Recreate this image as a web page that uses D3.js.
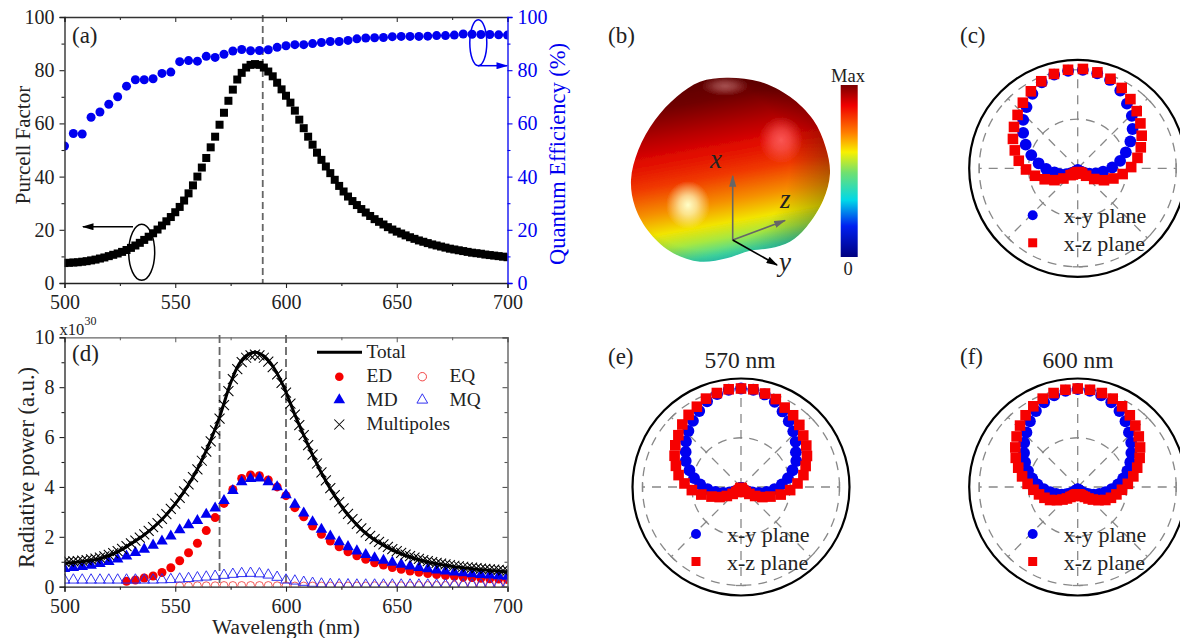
<!DOCTYPE html>
<html>
<head>
<meta charset="utf-8">
<script src="https://cdn.jsdelivr.net/npm/d3@7"></script>
<style>
  html, body { margin: 0; padding: 0; background: #fff; overflow: hidden; }
  text { font-family: "Liberation Serif", serif; fill: #222; }
</style>
</head>
<body>
<script>
// wavelength grids (nm)
const wl2 = [500,502,504,506,508,510,512,514,516,518,520,522,524,526,528,530,532,534,536,538,540,542,544,546,548,550,552,554,556,558,560,562,564,566,568,570,572,574,576,578,580,582,584,586,588,590,592,594,596,598,600,602,604,606,608,610,612,614,616,618,620,622,624,626,628,630,632,634,636,638,640,642,644,646,648,650,652,654,656,658,660,662,664,666,668,670,672,674,676,678,680,682,684,686,688,690,692,694,696,698,700];
const wl4 = [500,504,508,512,516,520,524,528,532,536,540,544,548,552,556,560,564,568,572,576,580,584,588,592,596,600,604,608,612,616,620,624,628,632,636,640,644,648,652,656,660,664,668,672,676,680,684,688,692,696,700];

// panel (a)
const purcell = [7.5,7.6,7.7,7.8,8.0,8.2,8.5,8.8,9.2,9.6,10.1,10.6,11.1,11.7,12.4,13.2,14.1,15.1,16.2,17.4,18.7,20.1,21.6,23.2,24.8,26.6,28.6,31,33.7,36.7,40,43.4,47,51,55,59.5,64,68.5,72.7,76.5,79,81,82,82.3,82,81,79.5,77.7,75.3,72.8,70.4,67.8,64.8,61.4,58.2,55,52,49,46.3,43.8,41.3,38.8,36.5,34.4,32.5,30.8,29.3,27.8,26.5,25.2,24,23,22,21,20.1,19.3,18.6,17.9,17.2,16.6,16,15.5,15,14.5,14.1,13.7,13.3,12.9,12.6,12.3,12,11.7,11.4,11.2,11,10.7,10.5,10.3,10.1,9.9,9.7];
const quantumEff = [51.5,56.2,56,62.3,64.3,67.2,70,74,76.4,76.4,76.8,78.8,79.3,83.2,83.6,83.4,85.2,84.8,86,87.2,87.8,87.3,87.4,87.7,88.6,89.2,89.6,89.6,90,90.4,90.8,90.8,91.2,91.8,92.1,92.2,92.3,92.6,92.7,92.7,92.7,92.8,93,93,93.2,93.6,93.5,93.4,93.4,93.3,93.2];

// panel (d), x10^30
const total = [0.95,0.96,0.97,0.99,1.01,1.03,1.06,1.09,1.13,1.19,1.25,1.32,1.4,1.49,1.6,1.72,1.83,1.95,2.08,2.22,2.37,2.53,2.7,2.89,3.1,3.32,3.56,3.82,4.1,4.4,4.72,5.08,5.46,5.88,6.32,6.8,7.35,7.92,8.4,8.8,9.08,9.26,9.36,9.4,9.36,9.25,9.08,8.85,8.55,8.2,7.8,7.35,6.9,6.48,6.08,5.68,5.28,4.92,4.56,4.24,3.92,3.64,3.36,3.1,2.88,2.67,2.48,2.3,2.14,2,1.87,1.76,1.66,1.56,1.47,1.39,1.32,1.25,1.19,1.13,1.08,1.03,0.99,0.95,0.92,0.89,0.86,0.83,0.8,0.78,0.76,0.74,0.72,0.7,0.68,0.67,0.65,0.64,0.63,0.61,0.6];
const multipoles = [1.0,1.01,1.02,1.03,1.05,1.07,1.1,1.13,1.17,1.22,1.28,1.35,1.43,1.52,1.63,1.74,1.85,1.97,2.1,2.24,2.39,2.55,2.72,2.91,3.12,3.33,3.56,3.82,4.1,4.39,4.7,5.05,5.42,5.83,6.27,6.74,7.28,7.84,8.32,8.72,9.0,9.18,9.28,9.31,9.28,9.18,9.02,8.8,8.51,8.17,7.78,7.34,6.9,6.48,6.08,5.68,5.3,4.94,4.58,4.26,3.95,3.67,3.39,3.14,2.92,2.71,2.52,2.34,2.18,2.04,1.91,1.8,1.7,1.6,1.51,1.43,1.36,1.29,1.23,1.17,1.12,1.07,1.03,0.99,0.96,0.93,0.9,0.87,0.84,0.82,0.8,0.78,0.76,0.74,0.72,0.71,0.69,0.68,0.67,0.65,0.64];
// null where the markers do not show in the picture
const edPower = [null,null,null,null,null,null,null,0.22,0.27,0.35,0.43,0.57,0.76,1.04,1.36,1.74,2.25,2.77,3.34,3.9,4.34,4.48,4.45,4.28,4.0,3.65,3.17,2.8,2.43,2.1,1.83,1.6,1.4,1.24,1.1,0.96,0.87,0.77,0.7,0.63,0.58,0.53,0.49,0.45,0.42,0.39,0.37,0.34,0.32,0.31,0.29];
const mdPower = [0.72,0.76,0.8,0.85,0.92,1.0,1.1,1.22,1.36,1.5,1.66,1.83,2.03,2.28,2.48,2.65,2.9,3.15,3.45,3.85,4.2,4.33,4.35,4.2,4.0,3.68,3.3,2.95,2.6,2.3,2.03,1.8,1.6,1.43,1.28,1.15,1.05,0.97,0.89,0.82,0.76,0.71,0.66,0.62,0.58,0.55,0.51,0.48,0.46,0.43,0.41];
const eqPower = [null,null,null,null,null,null,null,null,null,null,null,null,null,0.03,0.03,0.04,0.04,0.04,0.05,0.05,0.05,0.05,0.05,0.05,0.04,0.04,0.03,0.03,0.03,0.03,0.03,0.03,0.03,0.03,0.03,0.04,0.04,0.04,0.04,0.04,0.05,0.05,0.05,0.05,0.06,0.06,0.07,0.07,0.08,0.09,0.1];
const mqPower = [0.27,0.27,0.27,0.27,0.27,0.27,0.27,0.27,0.27,0.27,0.27,0.28,0.29,0.31,0.33,0.36,0.39,0.42,0.46,0.5,0.53,0.54,0.52,0.47,0.38,0.27,0.23,0.18,0.14,0.11,0.09,0.08,0.08,0.07,0.07,0.07,0.07,0.07,0.07,0.07,0.07,0.07,0.07,0.07,0.07,0.08,0.08,0.08,0.08,0.08,0.08];

// polar panels, angle in degrees clockwise from +x (top), radius relative to outer grid circle
const anglesC = [3,11.6,20.1,28.7,37.3,45.9,54.4,63,71.6,80.1,88.7,97.3,105.9,114.4,123,131.6,140.1,148.7,157.3,165.9,174.4,183,191.6,200.1,208.7,217.3,225.9,234.4,243,251.6,260.1,268.7,277.3,285.9,294.4,303,311.6,320.1,328.7,337.3,345.9,354.4];
const cXy = [1.0,0.985,0.955,0.9,0.825,0.765,0.685,0.6,0.515,0.437,0.35,0.26,0.19,0.13,0.09,0.06,0.045,0.035,0.03,0.025,0.02,0.02,0.025,0.03,0.035,0.045,0.06,0.09,0.13,0.19,0.24,0.32,0.4,0.49,0.58,0.66,0.74,0.81,0.885,0.945,0.98,0.995];
const cXz = [1.01,0.994,0.968,0.93,0.883,0.834,0.783,0.729,0.675,0.616,0.543,0.46,0.377,0.293,0.2,0.114,0.07,0.05,0.045,0.04,0.04,0.04,0.045,0.05,0.06,0.08,0.1,0.178,0.265,0.353,0.44,0.525,0.603,0.664,0.722,0.771,0.816,0.868,0.915,0.958,0.988,1.005];
const anglesEF = [0,7.2,14.4,21.6,28.8,36,43.2,50.4,57.6,64.8,72,79.2,86.4,93.6,100.8,108,115.2,122.4,129.6,136.8,144,151.2,158.4,165.6,172.8,180,187.2,194.4,201.6,208.8,216,223.2,230.4,237.6,244.8,252,259.2,266.4,273.6,280.8,288,295.2,302.4,309.6,316.8,324,331.2,338.4,345.6,352.8];
const eXy = [1.0,0.995,0.97,0.93,0.875,0.825,0.775,0.72,0.66,0.62,0.55,0.485,0.415,0.34,0.265,0.19,0.13,0.09,0.06,0.04,0.03,0.02,0.015,0.01,0.01,0.01,0.01,0.01,0.015,0.02,0.03,0.04,0.06,0.09,0.13,0.19,0.265,0.34,0.415,0.485,0.55,0.62,0.665,0.725,0.78,0.83,0.88,0.935,0.975,0.995];
const eXz = [1.0,1.0,0.98,0.96,0.92,0.9,0.865,0.82,0.785,0.74,0.69,0.645,0.575,0.5,0.41,0.315,0.24,0.17,0.11,0.07,0.05,0.035,0.02,0.015,0.012,0.01,0.012,0.015,0.02,0.035,0.05,0.07,0.11,0.17,0.24,0.315,0.41,0.5,0.575,0.645,0.695,0.745,0.79,0.825,0.87,0.905,0.93,0.965,0.985,1.0];
const fXy = [0.995,0.985,0.96,0.925,0.88,0.825,0.76,0.705,0.645,0.59,0.53,0.47,0.41,0.345,0.285,0.23,0.18,0.135,0.1,0.075,0.06,0.045,0.035,0.03,0.025,0.025,0.025,0.03,0.035,0.045,0.06,0.075,0.1,0.135,0.18,0.23,0.285,0.345,0.41,0.47,0.53,0.59,0.645,0.705,0.76,0.825,0.88,0.925,0.96,0.985];
const fXz = [1.0,0.995,0.985,0.965,0.935,0.9,0.855,0.805,0.75,0.695,0.635,0.575,0.51,0.45,0.4,0.355,0.31,0.25,0.2,0.16,0.125,0.105,0.09,0.08,0.075,0.075,0.075,0.08,0.09,0.105,0.125,0.16,0.2,0.25,0.31,0.355,0.4,0.45,0.51,0.575,0.635,0.695,0.75,0.805,0.855,0.9,0.935,0.965,0.985,0.995];

// tick labels
const wlTicks = [500,550,600,650,700];
const wlMinor = [525,575,625,675];
const pctTicks = [0,20,40,60,80,100];
const pctMinor = [10,30,50,70,90];
const powerTicks = [0,2,4,6,8,10];
const powerMinor = [1,3,5,7,9];

// outline of the 3D radiation pattern in (b)
const blobOutline = [[726.7,77.7],[760,81.7],[790,96.7],[813.3,120],[825.5,146.7],[830,173.3],[823.3,200],[806.7,226.7],[790,241.7],[770,248.3],[750,250.7],[726.7,258.3],[700,261.7],[673.3,253.3],[650,233.3],[635,206.7],[631,180],[638.3,150],[655,120],[676.7,96.7],[700,81.7]];
const blobStops = [[0,"#5a0000"],[0.12,"#700000"],[0.28,"#b80000"],[0.38,"#e00800"],[0.52,"#f03800"],[0.66,"#f59000"],[0.77,"#f2e400"],[0.85,"#a8e840"],[0.93,"#40d8a0"],[1,"#10b8c8"]];
const jetStops = [[0,"#7a0000"],[0.12,"#f00000"],[0.28,"#ff8000"],[0.39,"#f8f000"],[0.51,"#70e070"],[0.67,"#00d8e8"],[0.82,"#0020f0"],[1,"#000080"]];

const blue = "#0000f0", red = "#f60000", greyDash = "#666", polarGrey = "#888";
const serif = "Liberation Serif";

const svg = d3.select("body").append("svg").attr("width", 1180).attr("height", 638);
const defs = svg.append("defs");

function clip(id, x, y, w, h) {
  defs.append("clipPath").attr("id", id).append("rect").attr("x", x).attr("y", y).attr("width", w).attr("height", h);
}
function label(x, y, txt, size, opts) {
  opts = opts || {};
  return svg.append("text").attr("x", x).attr("y", y).text(txt)
    .style("font-size", size + "px")
    .style("text-anchor", opts.anchor || "start")
    .style("fill", opts.fill || "#222")
    .style("font-style", opts.italic ? "italic" : "normal");
}
function styleAxis(g, color, fontSize) {
  g.select(".domain").attr("stroke", color).attr("stroke-width", 1.3);
  g.selectAll("line").attr("stroke", color).attr("stroke-width", 1.1);
  g.selectAll("text").style("font-family", serif).style("font-size", fontSize + "px").style("fill", color === blue ? blue : "#222");
}
function addAxis(axis, major, minor, tx, ty, color, size, labels, pad) {
  const g = svg.append("g").attr("transform", "translate(" + tx + "," + ty + ")");
  g.call(axis.tickValues(major).tickSize(size).tickFormat(labels ? d3.format("d") : "").tickPadding(pad || 5));
  styleAxis(g, color, 20);
  const g2 = svg.append("g").attr("transform", "translate(" + tx + "," + ty + ")");
  g2.call(axis.tickValues(minor).tickSize(size * 0.6).tickFormat(""));
  styleAxis(g2, color, 20);
  g2.select(".domain").remove();
}

// ---------- panel (a)
const xA = d3.scaleLinear().domain([500, 700]).range([64.5, 507.5]);
const yA = d3.scaleLinear().domain([0, 100]).range([283, 17]);
clip("clipA", 64.5, 17, 443, 266);

svg.append("line").attr("x1", xA(589.5)).attr("x2", xA(589.5)).attr("y1", 15).attr("y2", 283)
  .attr("stroke", greyDash).attr("stroke-width", 1.8).attr("stroke-dasharray", "7 4");

const plotA = svg.append("g").attr("clip-path", "url(#clipA)");
plotA.selectAll(".sq").data(purcell).enter().append("rect")
  .attr("x", (d, i) => xA(wl2[i]) - 4).attr("y", d => yA(d) - 4)
  .attr("width", 8).attr("height", 8).attr("fill", "#000");
plotA.selectAll(".qe").data(quantumEff).enter().append("circle")
  .attr("cx", (d, i) => xA(wl4[i])).attr("cy", d => yA(d)).attr("r", 4.5).attr("fill", blue);

addAxis(d3.axisBottom(xA), wlTicks, wlMinor, 0, 283, "#222", 5, true, 7);
addAxis(d3.axisTop(xA), wlTicks, wlMinor, 0, 17, "#333", -5, false);
addAxis(d3.axisLeft(yA), pctTicks, pctMinor, 64.5, 0, "#222", 5, true);
addAxis(d3.axisRight(yA), pctTicks, pctMinor, 507.5, 0, blue, 5, true);

label(72, 43, "(a)", 23);
label(0, 0, "Purcell Factor", 21, {anchor: "middle"}).attr("transform", "translate(30,145) rotate(-90)");
label(0, 0, "Quantum Efficiency (%)", 22.5, {anchor: "middle", fill: blue}).attr("transform", "translate(565,154) rotate(-90)");

function arrowMarker(id, color, w, h) {
  defs.append("marker").attr("id", id).attr("viewBox", "0 0 10 6").attr("refX", 9).attr("refY", 3)
    .attr("markerUnits", "userSpaceOnUse").attr("markerWidth", w).attr("markerHeight", h).attr("orient", "auto")
    .append("path").attr("d", "M0,0L10,3L0,6Z").attr("fill", color);
}
arrowMarker("arrBlack", "#000", 13, 7);
arrowMarker("arrBlue", blue, 13, 7);
arrowMarker("arrGrey", "#666", 12, 8);

svg.append("ellipse").attr("cx", 141.7).attr("cy", 252.3).attr("rx", 13).attr("ry", 28)
  .attr("fill", "none").attr("stroke", "#000").attr("stroke-width", 1.5);
svg.append("line").attr("x1", 133).attr("y1", 226.7).attr("x2", 83).attr("y2", 226.7)
  .attr("stroke", "#000").attr("stroke-width", 1.5).attr("marker-end", "url(#arrBlack)");
svg.append("ellipse").attr("cx", 478.3).attr("cy", 42.7).attr("rx", 8.5).attr("ry", 23)
  .attr("fill", "none").attr("stroke", blue).attr("stroke-width", 1.5);
svg.append("line").attr("x1", 478).attr("y1", 65.7).attr("x2", 507).attr("y2", 65.7)
  .attr("stroke", blue).attr("stroke-width", 1.5).attr("marker-end", "url(#arrBlue)");

// ---------- panel (b)
label(608, 43, "(b)", 23);
const blobPath = d3.line().curve(d3.curveCatmullRomClosed)(blobOutline);
defs.append("clipPath").attr("id", "blobClip").append("path").attr("d", blobPath);
const blobGrad = defs.append("linearGradient").attr("id", "blobGrad").attr("gradientUnits", "userSpaceOnUse")
  .attr("x1", 718).attr("y1", 75).attr("x2", 752).attr("y2", 262);
blobStops.forEach(s => blobGrad.append("stop").attr("offset", s[0]).attr("stop-color", s[1]));
const shade = defs.append("radialGradient").attr("id", "blobShade").attr("gradientUnits", "userSpaceOnUse")
  .attr("cx", 705).attr("cy", 165).attr("r", 130);
shade.append("stop").attr("offset", 0.65).attr("stop-color", "#000").attr("stop-opacity", 0);
shade.append("stop").attr("offset", 1).attr("stop-color", "#000").attr("stop-opacity", 0.3);
function glow(id, color, alpha) {
  const g = defs.append("radialGradient").attr("id", id);
  g.append("stop").attr("offset", 0).attr("stop-color", color).attr("stop-opacity", alpha);
  g.append("stop").attr("offset", 0.4).attr("stop-color", color).attr("stop-opacity", alpha * 0.7);
  g.append("stop").attr("offset", 1).attr("stop-color", color).attr("stop-opacity", 0);
}
glow("glowYellow", "#ffffc8", 1);
glow("glowPink", "#ff6868", 0.8);
glow("glowTop", "#d89090", 0.55);
defs.append("filter").attr("id", "soft").append("feGaussianBlur").attr("stdDeviation", 0.5);

const blob = svg.append("g").attr("filter", "url(#soft)");
blob.append("path").attr("d", blobPath).attr("fill", "url(#blobGrad)");
const blobInner = blob.append("g").attr("clip-path", "url(#blobClip)");
blobInner.append("path").attr("d", blobPath).attr("fill", "url(#blobShade)");
blobInner.append("ellipse").attr("cx", 688).attr("cy", 205).attr("rx", 22).attr("ry", 24).attr("fill", "url(#glowYellow)");
blobInner.append("ellipse").attr("cx", 781).attr("cy", 140).attr("rx", 22).attr("ry", 24).attr("fill", "url(#glowPink)");
blobInner.append("ellipse").attr("cx", 725).attr("cy", 86).attr("rx", 24).attr("ry", 10).attr("fill", "url(#glowTop)");

// colour bar
const jetGrad = defs.append("linearGradient").attr("id", "jet").attr("x1", 0).attr("y1", 0).attr("x2", 0).attr("y2", 1);
jetStops.forEach(s => jetGrad.append("stop").attr("offset", s[0]).attr("stop-color", s[1]));
svg.append("rect").attr("x", 840.7).attr("y", 85).attr("width", 17).attr("height", 172).attr("fill", "url(#jet)");
label(848, 82, "Max", 18.5, {anchor: "middle"});
label(848, 275, "0", 18.5, {anchor: "middle"});

// axes of the 3D plot
svg.append("line").attr("x1", 732.7).attr("y1", 240).attr("x2", 732.7).attr("y2", 176)
  .attr("stroke", "#666").attr("stroke-width", 1.6).attr("marker-end", "url(#arrGrey)");
svg.append("line").attr("x1", 732.7).attr("y1", 240).attr("x2", 785).attr("y2", 220.5)
  .attr("stroke", "#666").attr("stroke-width", 1.6).attr("marker-end", "url(#arrGrey)");
svg.append("line").attr("x1", 732.7).attr("y1", 240).attr("x2", 777).attr("y2", 265)
  .attr("stroke", "#000").attr("stroke-width", 1.6).attr("marker-end", "url(#arrBlack)");
label(710, 168, "x", 27, {italic: true});
label(780, 208, "z", 27, {italic: true});
label(779, 271, "y", 27, {italic: true});

// ---------- panel (d)
const xD = d3.scaleLinear().domain([500, 700]).range([64.5, 507.5]);
const yD = d3.scaleLinear().domain([0, 10]).range([586.7, 337.3]);
clip("clipD", 64.5, 337.3, 443, 249.4);

svg.selectAll(".vline").data([570, 600]).enter().append("line")
  .attr("x1", d => xD(d)).attr("x2", d => xD(d)).attr("y1", 335).attr("y2", 586.7)
  .attr("stroke", greyDash).attr("stroke-width", 1.8).attr("stroke-dasharray", "8 4");

const plotD = svg.append("g").attr("clip-path", "url(#clipD)");
const triangle = d3.symbol().type(d3.symbolTriangle).size(58)();
const triangleOpen = d3.symbol().type(d3.symbolTriangle).size(50)();
const crossPath = "M-5,-5L5,5M-5,5L5,-5";

function points(values, grid) {
  return values.map((v, i) => ({x: grid[i], y: v})).filter(p => p.y !== null);
}
plotD.selectAll(".eq").data(points(eqPower, wl4)).enter().append("circle")
  .attr("cx", d => xD(d.x)).attr("cy", d => yD(d.y)).attr("r", 3.9)
  .attr("fill", "none").attr("stroke", "#f03030").attr("stroke-width", 0.8);
plotD.selectAll(".ed").data(points(edPower, wl4)).enter().append("circle")
  .attr("cx", d => xD(d.x)).attr("cy", d => yD(d.y)).attr("r", 4.5).attr("fill", red);
plotD.selectAll(".md").data(points(mdPower, wl4)).enter().append("path").attr("d", triangle)
  .attr("transform", d => "translate(" + xD(d.x) + "," + yD(d.y) + ")").attr("fill", blue);
plotD.selectAll(".mq").data(points(mqPower, wl4)).enter().append("path").attr("d", triangleOpen)
  .attr("transform", d => "translate(" + xD(d.x) + "," + yD(d.y) + ")")
  .attr("fill", "none").attr("stroke", "#2828f0").attr("stroke-width", 0.95);
plotD.selectAll(".mp").data(points(multipoles, wl2)).enter().append("path").attr("d", crossPath)
  .attr("transform", d => "translate(" + xD(d.x) + "," + yD(d.y) + ")")
  .attr("fill", "none").attr("stroke", "#000").attr("stroke-width", 1.05);
plotD.append("path").datum(total)
  .attr("d", d3.line().x((d, i) => xD(wl2[i])).y(d => yD(d)).curve(d3.curveMonotoneX))
  .attr("fill", "none").attr("stroke", "#000").attr("stroke-width", 3);

addAxis(d3.axisBottom(xD), wlTicks, wlMinor, 0, 586.7, "#222", 5, true, 7);
addAxis(d3.axisTop(xD), wlTicks, wlMinor, 0, 337.3, "#666", -5, false);
addAxis(d3.axisLeft(yD), powerTicks, powerMinor, 64.5, 0, "#222", 5, true);
addAxis(d3.axisRight(yD), powerTicks, powerMinor, 507.5, 0, "#555", -5, false);

label(72, 361, "(d)", 23);
label(0, 0, "Radiative power (a.u.)", 22.5, {anchor: "middle"}).attr("transform", "translate(34,467.5) rotate(-90)");
label(286, 634, "Wavelength (nm)", 21.3, {anchor: "middle"});
label(59.5, 334.5, "x10", 16.5);
label(84.5, 324.5, "30", 12);

// legend of (d)
svg.append("line").attr("x1", 317).attr("x2", 362).attr("y1", 352.3).attr("y2", 352.3).attr("stroke", "#000").attr("stroke-width", 3);
label(366.5, 358, "Total", 19.3);
svg.append("circle").attr("cx", 339.3).attr("cy", 376.7).attr("r", 4.3).attr("fill", red);
label(366.5, 382, "ED", 19.3);
svg.append("circle").attr("cx", 422.3).attr("cy", 376.7).attr("r", 4.2).attr("fill", "none").attr("stroke", "#f03030").attr("stroke-width", 0.9);
label(449.5, 382, "EQ", 19.3);
svg.append("path").attr("d", triangle).attr("transform", "translate(339.3,400)").attr("fill", blue);
label(366.5, 406, "MD", 19.3);
svg.append("path").attr("d", triangleOpen).attr("transform", "translate(422.3,400)").attr("fill", "none").attr("stroke", "#2828f0").attr("stroke-width", 0.95);
label(449.5, 406, "MQ", 19.3);
svg.append("path").attr("d", crossPath).attr("transform", "translate(339.3,424.5)").attr("fill", "none").attr("stroke", "#000").attr("stroke-width", 1.05);
label(366.5, 430, "Multipoles", 19.3);

// ---------- polar panels
const rPolar = d3.scaleLinear().domain([0, 1]).range([0, 98.5]);
const gridRings = [0.5, 1];
const gridSpokes = [0, 45, 90, 135, 180, 225, 270, 315];

function polarPanel(cx, cy, angles, xy, xz) {
  const g = svg.append("g").attr("transform", "translate(" + cx + "," + cy + ")");
  g.selectAll(".ring").data(gridRings).enter().append("circle").attr("r", d => rPolar(d))
    .attr("fill", "none").attr("stroke", polarGrey).attr("stroke-width", 1.3).attr("stroke-dasharray", "9 7");
  g.selectAll(".spoke").data(gridSpokes).enter().append("line")
    .attr("x2", d => d3.pointRadial(d * Math.PI / 180, rPolar(1))[0])
    .attr("y2", d => d3.pointRadial(d * Math.PI / 180, rPolar(1))[1])
    .attr("stroke", polarGrey).attr("stroke-width", 1.3).attr("stroke-dasharray", "9 7");
  g.selectAll(".tick").data(gridSpokes).enter().append("line")
    .attr("transform", d => "rotate(" + d + ")")
    .attr("x1", -5).attr("x2", 5).attr("y1", -rPolar(1)).attr("y2", -rPolar(1))
    .attr("stroke", polarGrey).attr("stroke-width", 1.3);
  g.selectAll(".xy").data(xy).enter().append("circle")
    .attr("cx", (d, i) => d3.pointRadial(angles[i] * Math.PI / 180, rPolar(d))[0])
    .attr("cy", (d, i) => d3.pointRadial(angles[i] * Math.PI / 180, rPolar(d))[1])
    .attr("r", 5.9).attr("fill", blue);
  g.selectAll(".xz").data(xz).enter().append("rect")
    .attr("x", (d, i) => d3.pointRadial(angles[i] * Math.PI / 180, rPolar(d))[0] - 5.3)
    .attr("y", (d, i) => d3.pointRadial(angles[i] * Math.PI / 180, rPolar(d))[1] - 5.3)
    .attr("width", 10.6).attr("height", 10.6).attr("fill", red);
  g.append("circle").attr("r", 108.5).attr("fill", "none").attr("stroke", "#000").attr("stroke-width", 2.2);
  // legend
  g.append("circle").attr("cx", -45).attr("cy", 47).attr("r", 5).attr("fill", blue);
  g.append("rect").attr("x", -49.5).attr("y", 70).attr("width", 9).attr("height", 9).attr("fill", red);
  g.append("text").attr("x", -14).attr("y", 55).text("x-y plane").style("font-size", "22px");
  g.append("text").attr("x", -14).attr("y", 82.5).text("x-z plane").style("font-size", "22px");
}

label(960, 43, "(c)", 23);
polarPanel(1077.7, 168.3, anglesC, cXy, cXz);
label(608, 364, "(e)", 23);
label(740, 368, "570 nm", 23.5, {anchor: "middle"});
polarPanel(741, 487, anglesEF, eXy, eXz);
label(960, 364, "(f)", 23);
label(1078, 368, "600 nm", 23.5, {anchor: "middle"});
polarPanel(1077.7, 487, anglesEF, fXy, fXz);
</script>
</body>
</html>
